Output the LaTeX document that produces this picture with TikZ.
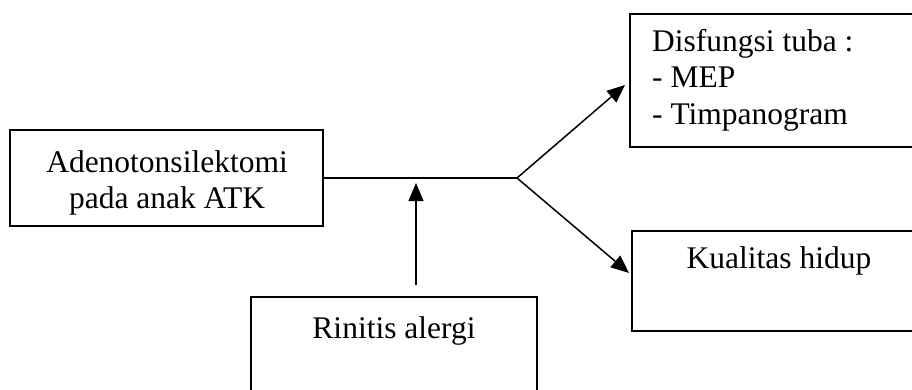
\documentclass[tikz,border=0pt]{standalone}
\usepackage{fontspec}
\setmainfont{Liberation Serif}
\usetikzlibrary{arrows.meta}
\begin{document}
\begin{tikzpicture}[x=1pt,y=-1pt,
  box/.style={draw=black, line width=1.6pt, inner sep=0pt, outer sep=0pt, anchor=north west},
  txt/.style={font=\fontsize{31.5}{36}\selectfont, inner sep=0pt},
  conn/.style={line width=1.5pt},
  arr/.style={conn, -{Triangle[length=18pt,width=15pt]}}]
\useasboundingbox (0,0) rectangle (912,390);
\clip (0,0) rectangle (912,390);
% boxes
\node[box, minimum width=313pt, minimum height=96pt] (adeno) at (10,130) {};
\node[box, minimum width=320pt, minimum height=133pt] (disf) at (630,14) {};
\node[box, minimum width=320pt, minimum height=100pt] (kual) at (632,231) {};
\node[box, minimum width=286pt, minimum height=120pt] (rin) at (251,297) {};
% texts
\node[txt, anchor=base] (ta1) at (167,172) {Adenotonsilektomi};
\node[txt, anchor=base] (ta2) at (167,208) {pada anak ATK};
\node[txt, anchor=base west] (td1) at (652,52) {Disfungsi tuba :};
\node[txt, anchor=base west] (td2) at (652,88) {- MEP};
\node[txt, anchor=base west] (td3) at (652,125) {- Timpanogram};
\node[txt, anchor=base] (tk) at (779,268) {Kualitas hidup};
\node[txt, anchor=base] (tr) at (394,338) {Rinitis alergi};
% connectors
\coordinate (j) at (517,178);
\coordinate (vs) at (416,285);
\coordinate (vt) at (416,183);
\coordinate (dt) at (625,85);
\coordinate (kt) at (629,273);
\draw[conn] (adeno.east) -- (j);
\draw[arr] (j) -- (dt);
\draw[arr] (j) -- (kt);
\draw[arr] (vs) -- (vt);
\end{tikzpicture}
\end{document}
